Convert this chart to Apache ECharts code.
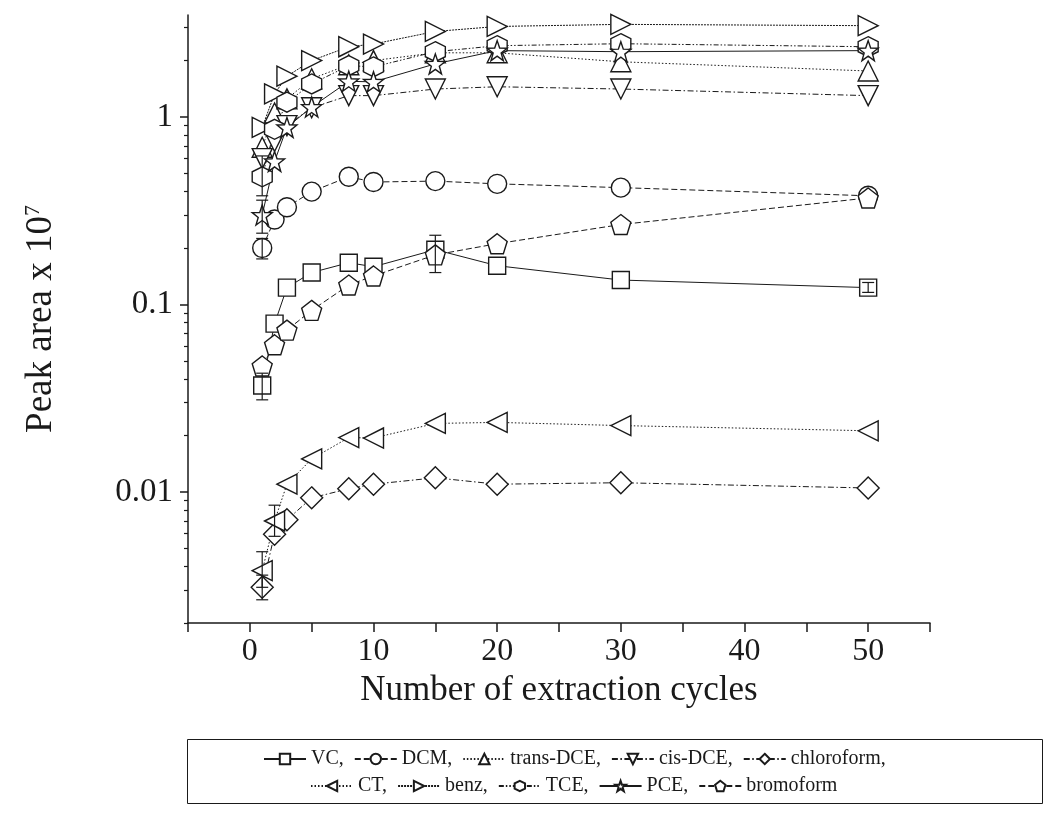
<!DOCTYPE html>
<html>
<head>
<meta charset="utf-8">
<script src="https://cdn.jsdelivr.net/npm/echarts@6/dist/echarts.min.js"></script>
<style>
  html, body { margin: 0; padding: 0; background: #fff; }
  #chart { width: 1049px; height: 816px; }
</style>
</head>
<body>
<div id="chart"></div>
<script>
// ---- data ----
const xCycles = [1, 2, 3, 5, 8, 10, 15, 20, 30, 50];
const vc         = [0.037, 0.079, 0.123, 0.148, 0.167, 0.159, 0.196, 0.161, 0.135, 0.123];
const dcm        = [0.20, 0.284, 0.33, 0.40, 0.48, 0.45, 0.455, 0.44, 0.42, 0.38];
const transDCE   = [0.69, 1.05, 1.25, 1.6, 1.9, 2.0, 2.2, 2.2, 1.97, 1.76];
const cisDCE     = [0.6, 0.74, 0.9, 1.12, 1.3, 1.3, 1.41, 1.45, 1.41, 1.30];
const chloroform = [0.0031, 0.00595, 0.0071, 0.0093, 0.0104, 0.011, 0.0119, 0.011, 0.0112, 0.0105];
const ct         = [0.0038, 0.007, 0.011, 0.015, 0.0195, 0.0194, 0.0232, 0.0235, 0.0226, 0.0212];
const benz       = [0.88, 1.33, 1.65, 2.0, 2.37, 2.45, 2.86, 3.04, 3.12, 3.07];
const tce        = [0.48, 0.86, 1.2, 1.5, 1.88, 1.85, 2.23, 2.4, 2.46, 2.37];
const pce        = [0.30, 0.58, 0.88, 1.13, 1.55, 1.54, 1.92, 2.26, 2.23, 2.26];
const bromoform  = [0.047, 0.061, 0.073, 0.093, 0.127, 0.142, 0.184, 0.211, 0.267, 0.37];

// visible error bars: [x, low, high]
const errorBars = [
  [1, 0.031, 0.043], [15, 0.148, 0.234], [50, 0.116, 0.131],
  [1, 0.175, 0.225], [1, 0.38, 0.62], [1, 0.24, 0.36],
  [1, 0.0031, 0.0048], [1, 0.00266, 0.0036], [2, 0.0058, 0.0085]
];

const seriesNames = ['VC', 'DCM', 'trans-DCE', 'cis-DCE', 'chloroform', 'CT', 'benz', 'TCE', 'PCE', 'bromoform'];
const yMajorTicks = [0.01, 0.1, 1];
const yMinorTicks = [0.002, 0.003, 0.004, 0.005, 0.006, 0.007, 0.008, 0.009,
  0.02, 0.03, 0.04, 0.05, 0.06, 0.07, 0.08, 0.09,
  0.2, 0.3, 0.4, 0.5, 0.6, 0.7, 0.8, 0.9, 2, 3];
const xLabelValues = [0, 10, 20, 30, 40, 50];

// ---- styling ----
const FONT = 'Liberation Serif';
const INK = '#1a1a1a';
const SYM = {
  square: 'rect',
  circle: 'circle',
  up: 'path://M5,0 L10,9 L0,9 Z',
  down: 'path://M0,0 L10,0 L5,9 Z',
  diamond: 'diamond',
  left: 'path://M0,5 L9,0 L9,10 Z',
  right: 'path://M0,0 L9,5 L0,10 Z',
  hexagon: 'path://M5,0 L10,2.9 L10,8.7 L5,11.6 L0,8.7 L0,2.9 Z',
  star: 'path://M5,0 L6.18,3.38 L9.76,3.45 L6.9,5.62 L7.94,9.05 L5,7 L2.06,9.05 L3.1,5.62 L0.24,3.45 L3.82,3.38 Z',
  pentagon: 'path://M5,0 L10,3.8 L8.1,9.8 L1.9,9.8 L0,3.8 Z'
};
const DASH = {
  solid: 'solid',
  dashed: [6, 3],
  dotted: [1.5, 2],
  dashdot: [6, 2.5, 1.5, 2.5],
  dashdotdot: [5, 2, 1.5, 2, 1.5, 2],
  fine: [2, 1]
};

const specs = [
  { data: vc, sym: SYM.square, size: 17, dash: DASH.solid },
  { data: dcm, sym: SYM.circle, size: 19, dash: DASH.dashed },
  { data: transDCE, sym: SYM.up, size: 20, dash: DASH.dotted },
  { data: cisDCE, sym: SYM.down, size: 20, dash: DASH.dashdot },
  { data: chloroform, sym: SYM.diamond, size: 22, dash: DASH.dashdot },
  { data: ct, sym: SYM.left, size: 20, dash: DASH.dotted },
  { data: benz, sym: SYM.right, size: 20, dash: DASH.fine },
  { data: tce, sym: SYM.hexagon, size: 20, dash: DASH.dashdotdot },
  { data: pce, sym: SYM.star, size: 20, dash: DASH.solid },
  { data: bromoform, sym: SYM.pentagon, size: 20, dash: DASH.dashed }
];

const series = specs.map((s, i) => ({
  name: seriesNames[i],
  type: 'line',
  data: xCycles.map((x, k) => [x, s.data[k]]),
  symbol: s.sym,
  symbolSize: s.size,
  showAllSymbol: true,
  lineStyle: { color: INK, width: 1, type: s.dash },
  itemStyle: { color: '#ffffff', borderColor: INK, borderWidth: 1.4 },
  emphasis: { disabled: true },
  animation: false,
  z: 2
}));

series.push({
  name: 'errors',
  type: 'custom',
  data: errorBars,
  z: 5,
  animation: false,
  renderItem: function (params, api) {
    const x = api.value(0);
    const lo = api.coord([x, api.value(1)]);
    const hi = api.coord([x, api.value(2)]);
    const c = 6;
    const st = { stroke: INK, lineWidth: 1.2 };
    return {
      type: 'group',
      children: [
        { type: 'line', shape: { x1: lo[0], y1: lo[1], x2: hi[0], y2: hi[1] }, style: st },
        { type: 'line', shape: { x1: lo[0] - c, y1: lo[1], x2: lo[0] + c, y2: lo[1] }, style: st },
        { type: 'line', shape: { x1: hi[0] - c, y1: hi[1], x2: hi[0] + c, y2: hi[1] }, style: st }
      ]
    };
  }
});

const legendCommon = {
  orient: 'horizontal',
  itemWidth: 42,
  itemHeight: 13,
  itemGap: 10,
  selectedMode: false,
  textStyle: { fontFamily: FONT, fontSize: 20, color: INK },
  formatter: name => name === 'bromoform' ? name : name + ','
};

const option = {
  backgroundColor: '#ffffff',
  animation: false,
  grid: { left: 188, right: 119, top: 15, bottom: 193, containLabel: false },
  xAxis: {
    type: 'value',
    min: -5, max: 55, interval: 5,
    name: 'Number of extraction cycles',
    nameLocation: 'middle',
    nameGap: 41,
    nameTextStyle: { fontFamily: FONT, fontSize: 35, color: INK },
    axisLine: { show: true, onZero: false, lineStyle: { color: INK, width: 1.5 } },
    axisTick: { show: true, length: 9, lineStyle: { color: INK, width: 1.5 } },
    axisLabel: {
      fontFamily: FONT, fontSize: 32, color: INK, margin: 13,
      formatter: v => xLabelValues.indexOf(v) >= 0 ? String(v) : ''
    },
    splitLine: { show: false }
  },
  yAxis: [
    {
      type: 'log', logBase: 10,
      min: 0.002, max: 3.5,
      name: '{a|Peak area x 10}{s|7}',
      nameLocation: 'middle',
      nameGap: 128,
      nameRotate: 90,
      nameTextStyle: {
        rich: {
          a: { fontFamily: FONT, fontSize: 37, color: INK },
          s: { fontFamily: FONT, fontSize: 22, color: INK, verticalAlign: 'top', padding: [0, 0, 16, 0] }
        }
      },
      axisLine: { show: true, onZero: false, lineStyle: { color: INK, width: 1.5 } },
      axisTick: { show: true, length: 8, customValues: yMajorTicks, lineStyle: { color: INK, width: 1.5 } },
      axisLabel: {
        fontFamily: FONT, fontSize: 33, color: INK, margin: 15,
        customValues: yMajorTicks,
        formatter: v => String(+v.toPrecision(3))
      },
      splitLine: { show: false }
    },
    {
      type: 'log', logBase: 10,
      min: 0.002, max: 3.5,
      position: 'left',
      axisLine: { show: false, onZero: false },
      axisTick: { show: true, length: 4, customValues: yMinorTicks, lineStyle: { color: INK, width: 1.2 } },
      axisLabel: { show: false },
      splitLine: { show: false }
    }
  ],
  legend: [
    Object.assign({}, legendCommon, { data: seriesNames.slice(0, 5), left: 258, top: 744 }),
    Object.assign({}, legendCommon, { data: seriesNames.slice(5), left: 305, top: 771 })
  ],
  graphic: [
    {
      type: 'rect',
      left: 185, top: 737,
      shape: { width: 855, height: 64 },
      style: { fill: 'none', stroke: INK, lineWidth: 1 },
      silent: true
    }
  ],
  series: series
};

const chart = echarts.init(document.getElementById('chart'), null, { renderer: 'canvas' });
chart.setOption(option);
</script>
</body>
</html>
